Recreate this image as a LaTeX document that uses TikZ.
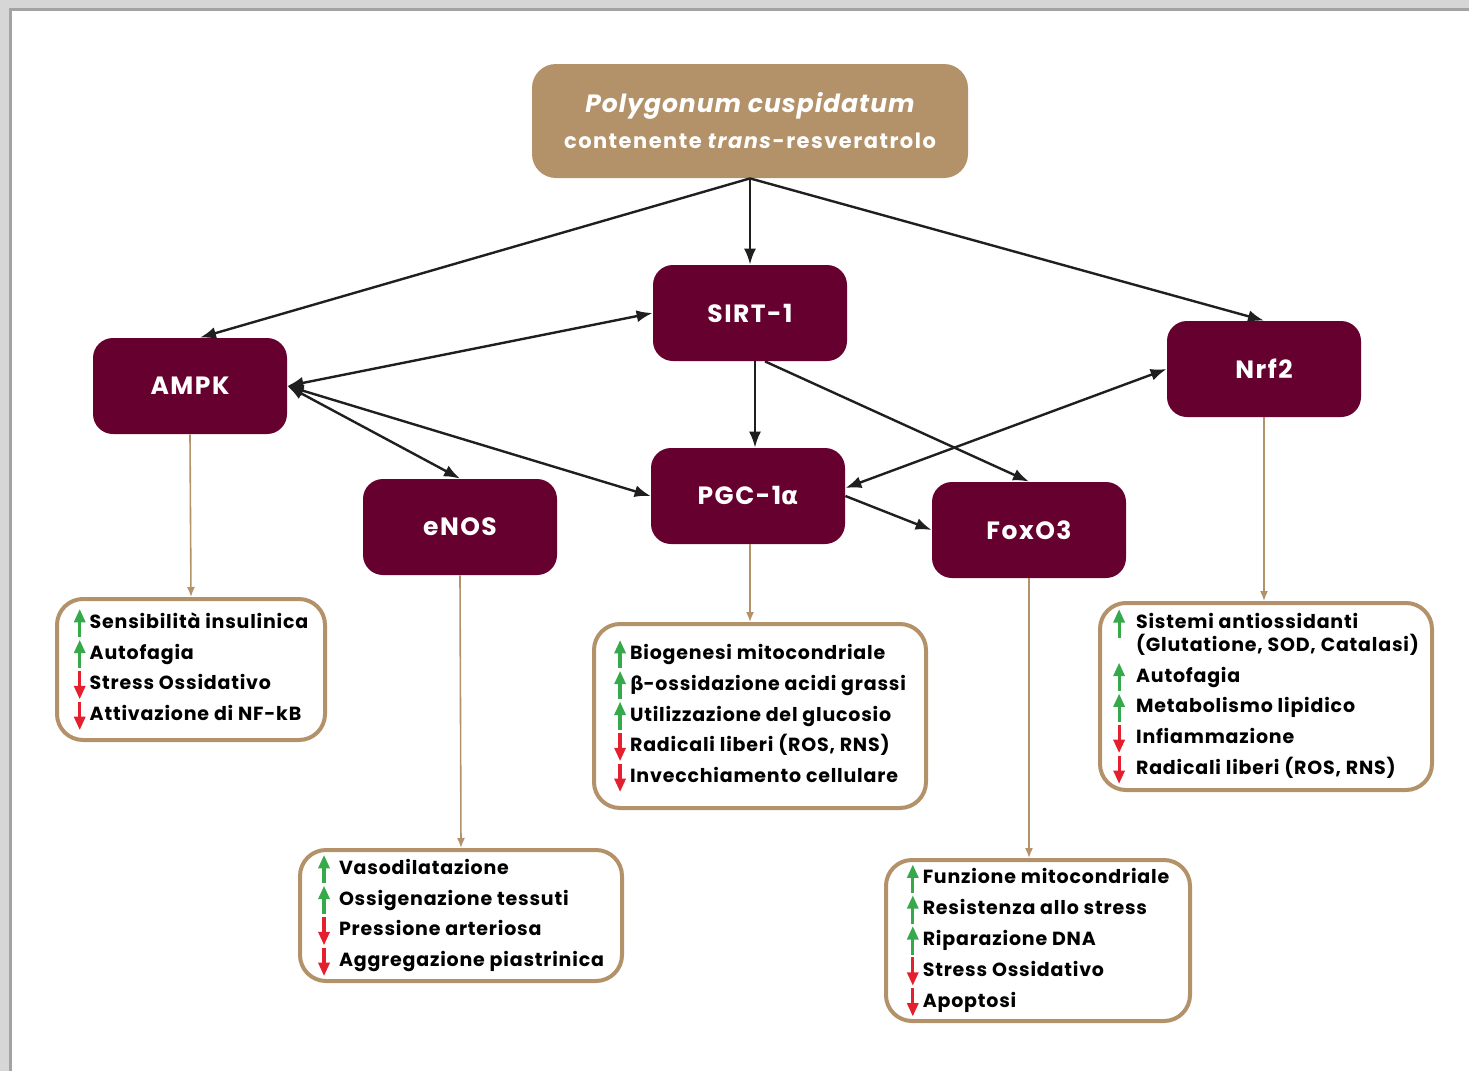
\documentclass[tikz,border=0pt]{standalone}
\usepackage{fontspec}
\setmainfont{Poppins}
\newfontfamily\greek{DejaVu Sans}
\usetikzlibrary{arrows.meta}

\definecolor{wine}{HTML}{66002E}
\definecolor{tan}{HTML}{B39169}
\definecolor{upgreen}{HTML}{36A94A}
\definecolor{dnred}{HTML}{E5202E}

% small coloured up / down marks used inside the result lists
\newcommand{\upar}{\tikz[baseline=0pt, sharp corners]{
  \fill[upgreen] (-0.8pt,-4.5pt) rectangle (0.8pt,4pt);
  \fill[upgreen] (-3pt,3pt) -- (3pt,3pt) -- (0pt,9.5pt) -- cycle;}\hspace{2pt}}
\newcommand{\dnar}{\tikz[baseline=0pt, sharp corners]{
  \fill[dnred] (-0.8pt,9.5pt) rectangle (0.8pt,1pt);
  \fill[dnred] (-3pt,2pt) -- (3pt,2pt) -- (0pt,-4.5pt) -- cycle;}\hspace{2pt}}

\begin{document}
\begin{tikzpicture}[
  x=0.5pt, y=-0.5pt,
  hub/.style={fill=wine, text=white, rounded corners=10pt,
              minimum width=97pt, minimum height=48pt, inner sep=0pt,
              font=\bfseries\fontsize{12.5}{15}\selectfont\addfontfeature{LetterSpace=6}},
  res/.style={draw=tan, line width=2pt, fill=white, rounded corners=13pt,
              align=left, inner sep=0pt,
              font=\bfseries\fontsize{9.5}{15.4}\selectfont\addfontfeature{LetterSpace=4.2}},
  link/.style={-{Latex[length=8pt,width=6pt]}, line width=1.2pt, black!88},
  both/.style={link, {Latex[length=8pt,width=6pt]}-{Latex[length=8pt,width=6pt]}},
  feed/.style={-{Latex[length=5pt,width=4pt]}, tan, line width=0.8pt}
]
% page frame with its grey shadow
\fill[black!16] (0,0) rectangle (1469,1071);
\fill[black!36] (9,8) rectangle (1469,1071);
\fill[white] (12,11) rectangle (1469,1071);
\useasboundingbox (0,0) rectangle (1469,1071);

\node[fill=tan, text=white, rounded corners=12pt, minimum width=218pt,
      minimum height=57pt, align=center, inner sep=0pt] (src) at (750,121)
  {{\bfseries\itshape\fontsize{12.5}{16}\selectfont\addfontfeature{LetterSpace=4}Polygonum cuspidatum}\\[6pt]
   {\bfseries\fontsize{10.5}{14}\selectfont\addfontfeature{LetterSpace=7}contenente \textit{trans}-resveratrolo}};

\node[hub] (ampk) at (190,386) {AMPK};
\node[hub] (sirt) at (750,313) {SIRT-1};
\node[hub] (nrf)  at (1264,369) {Nrf2};
\node[hub] (enos) at (460,527) {eNOS};
\node[hub] (pgc)  at (748,496) {PGC-1{\greek\bfseries α}};
\node[hub] (foxo) at (1029,530) {FoxO3};

\node[res, minimum width=134pt, minimum height=70.5pt] (ampkres) at (191,669.5)
  {\upar Sensibilità insulinica\\ \upar Autofagia\\ \dnar Stress Ossidativo\\
   \dnar Attivazione di NF-kB};
\node[res, minimum width=161pt, minimum height=65.5pt] (enosres) at (461,915.5)
  {\upar\hspace{2.5pt}Vasodilatazione\\ \upar\hspace{2.5pt}Ossigenazione tessuti\\
   \dnar\hspace{2.5pt}Pressione arteriosa\\ \dnar\hspace{2.5pt}Aggregazione piastrinica};
\node[res, minimum width=166pt, minimum height=92pt] (pgcres) at (760,716)
  {\upar Biogenesi mitocondriale\\ \upar{\greek\bfseries β}-ossidazione acidi grassi\\
   \upar Utilizzazione del glucosio\\ \dnar Radicali liberi (ROS, RNS)\\
   \dnar Invecchiamento cellulare};
\node[res, minimum width=152pt, minimum height=80.5pt] (foxres) at (1038,940.5)
  {\upar Funzione mitocondriale\\ \upar Resistenza allo stress\\
   \upar Riparazione DNA\\ \dnar Stress Ossidativo\\ \dnar Apoptosi};
\node[res, minimum width=166pt, minimum height=93.5pt] (nrfres) at (1266,696.5)
  {\upar\hspace{3.5pt}Sistemi antiossidanti\\[-4pt]
   \hspace{11.5pt}(Glutatione, SOD, Catalasi)\\
   \upar\hspace{3.5pt}Autofagia\\ \upar\hspace{3.5pt}Metabolismo lipidico\\
   \dnar\hspace{3.5pt}Infiammazione\\ \dnar\hspace{3.5pt}Radicali liberi (ROS, RNS)};

% regulation arrows
\draw[link] (src.south) -- ([xshift=5pt]ampk.north);
\draw[link] (src.south) -- (sirt.north);
\draw[link] (src.south) -- (nrf.north);
\draw[both] (ampk.east) -- (sirt.west);
\draw[both] (ampk.east) -- (enos.north);
\draw[both] (ampk.east) -- (pgc.west);
\draw[link] ([xshift=2.5pt]sirt.south) -- ([xshift=2.5pt]sirt.south |- pgc.north);
\draw[link] ([xshift=7.5pt]sirt.south) -- (foxo.north);
\draw[both] ([yshift=4pt]pgc.east) -- (nrf.west);
\draw[link] (pgc.east) -- (foxo.west);

% effects
\draw[feed] (ampk.south) -- (ampkres.north);
\draw[feed] (enos.south) -- (enosres.north);
\draw[feed] ([xshift=1pt]pgc.south) -- ([xshift=1pt]pgc.south |- pgcres.north);
\draw[feed] (foxo.south) -- (foxo.south |- foxres.north);
\draw[feed] (nrf.south) -- (nrf.south |- nrfres.north);
\end{tikzpicture}
\end{document}
